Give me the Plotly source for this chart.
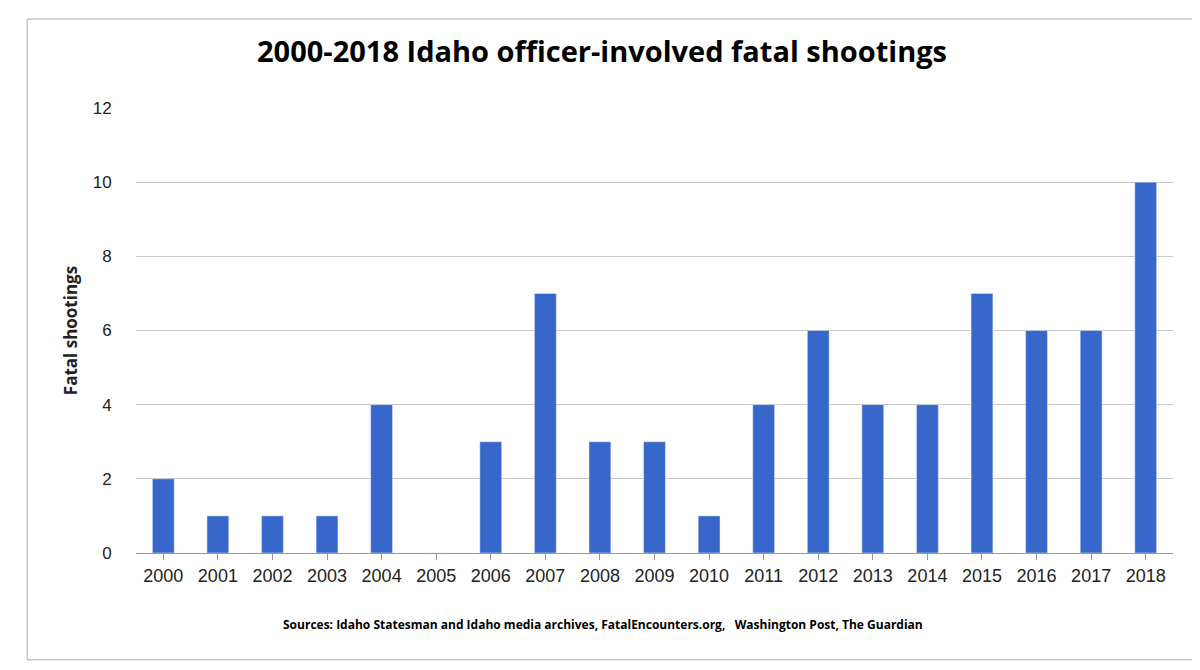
import plotly.graph_objects as go

years = [str(y) for y in range(2000, 2019)]
shootings = [2, 1, 1, 1, 4, 0, 3, 7, 3, 3, 1, 4, 6, 4, 4, 7, 6, 6, 10]
y_ticks = [0, 2, 4, 6, 8, 10, 12]

fig = go.Figure(go.Bar(x=years, y=shootings, marker_color="#3867CB", width=0.4))

fig.update_layout(
    width=1200, height=670,
    margin=dict(l=128, r=35, t=100, b=125),
    paper_bgcolor="white", plot_bgcolor="white",
    font=dict(family="Open Sans, Arial", color="#222"),
    title=dict(text="<b>2000-2018 Idaho officer-involved fatal shootings</b>",
               x=0.495, xanchor="center", y=0.935, yanchor="middle",
               font=dict(size=29, color="black")),
    showlegend=False,
    bargap=0.6,
)
fig.update_xaxes(type="category", showline=True, linecolor="#999", ticks="outside",
                 ticklen=6, tickcolor="#999", tickfont=dict(size=18, family="Arial"))
fig.update_yaxes(range=[0, 12], tickvals=y_ticks, showgrid=True, gridcolor="#c8c8c8",
                 zeroline=False, tickfont=dict(size=17, family="Arial"), ticklen=20,
                 tickcolor="white", ticks="outside",
                 title=dict(text="<b>Fatal shootings</b>", font=dict(size=17), standoff=10))
fig.add_annotation(text="<b>Sources: Idaho Statesman and Idaho media archives, FatalEncounters.org,   Washington Post, The Guardian</b>",
                   xref="paper", yref="paper", x=0.45, y=-0.185, showarrow=False,
                   font=dict(size=12, color="black"))
fig.add_shape(type="rect", xref="paper", yref="paper", x0=-0.105, x1=1.03, y0=-0.24, y1=1.2,
              line=dict(color="#aaa", width=1))

fig.write_html("out.html")
